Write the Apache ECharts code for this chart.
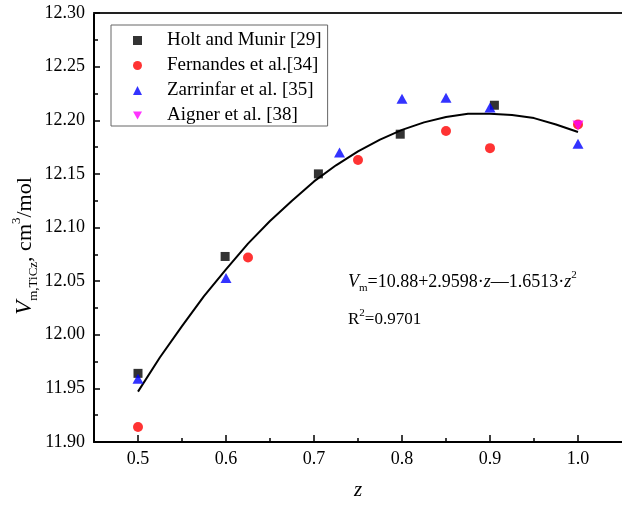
<!DOCTYPE html>
<html>
<head>
<meta charset="utf-8">
<script src="https://cdn.jsdelivr.net/npm/echarts@6/dist/echarts.min.js"></script>
<style>
  html, body { margin: 0; padding: 0; background: #fff; }
  #chart { width: 622px; height: 506px; }
</style>
</head>
<body>
<div id="chart"></div>
<script>
// data
const holtZ = [0.5, 0.599, 0.705, 0.798, 0.905]
const holtV = [11.964, 12.073, 12.150, 12.187, 12.214]
const fernZ = [0.5, 0.625, 0.75, 0.85, 0.9, 1.0]
const fernV = [11.914, 12.072, 12.163, 12.190, 12.174, 12.196]
const zarrZ = [0.5, 0.6, 0.729, 0.8, 0.85, 0.9, 1.0]
const zarrV = [11.959, 12.053, 12.170, 12.220, 12.221, 12.212, 12.178]
const aignZ = [1.0]
const aignV = [12.195]
// fitted curve, read at steps of 0.025
const fitZ = [0.5, 0.525, 0.55, 0.575, 0.6, 0.625, 0.65, 0.675, 0.7, 0.725, 0.75,
  0.775, 0.8, 0.825, 0.85, 0.875, 0.9, 0.925, 0.95, 0.975, 1.0]
const fitV = [11.947, 11.979, 12.008, 12.036, 12.061, 12.085, 12.106, 12.125, 12.143, 12.158, 12.171,
  12.182, 12.191, 12.198, 12.203, 12.206, 12.206, 12.205, 12.202, 12.196, 12.189]
const xMajor = [0.5, 0.6, 0.7, 0.8, 0.9, 1.0]
const xMinor = [0.55, 0.65, 0.75, 0.85, 0.95]
const names = ['Holt and Munir [29]', 'Fernandes et al.[34]', 'Zarrinfar et al. [35]', 'Aigner et al. [38]']

const font = "'Liberation Serif', 'Times New Roman', serif"
const pair = (xs, ys) => xs.map((x, i) => [x, ys[i]])

const chart = echarts.init(document.getElementById('chart'))

const option = {
  backgroundColor: '#fff',
  animation: false,
  textStyle: { fontFamily: font, color: '#000' },
  grid: { left: 94, top: 13, right: -2, bottom: 62, show: false },
  legend: {
    data: names,
    orient: 'vertical',
    left: 111,
    top: 25,
    padding: [6, 6, 1, 22],
    itemGap: 6,
    itemWidth: 9,
    itemHeight: 9,
    borderColor: '#666',
    borderWidth: 1,
    textStyle: { fontFamily: font, fontSize: 19, color: '#000', lineHeight: 18, padding: [0, 0, 0, 20] }
  },
  xAxis: [
    {
      type: 'value', position: 'bottom', min: 0.45, max: 1.05,
      name: 'z', nameLocation: 'middle', nameGap: 38,
      nameTextStyle: { fontFamily: font, fontStyle: 'italic', fontSize: 21, color: '#000' },
      axisLine: { lineStyle: { color: '#000', width: 2 } },
      axisTick: { inside: true, length: 7, customValues: xMajor, lineStyle: { color: '#000', width: 1.5 } },
      axisLabel: { customValues: xMajor, fontSize: 18, color: '#000', margin: 8, formatter: v => v.toFixed(1) },
      splitLine: { show: false }
    },
    {
      type: 'value', position: 'bottom', min: 0.45, max: 1.05,
      axisLine: { show: false },
      axisTick: { inside: true, length: 4, customValues: xMinor, lineStyle: { color: '#000', width: 1.5 } },
      axisLabel: { show: false },
      splitLine: { show: false }
    },
    {
      type: 'value', position: 'top', min: 0.45, max: 1.05,
      axisLine: { lineStyle: { color: '#222', width: 2 } },
      axisTick: { show: false },
      axisLabel: { show: false },
      splitLine: { show: false }
    }
  ],
  yAxis: {
    type: 'value', min: 11.9, max: 12.3, interval: 0.05,
    axisLine: { show: true, lineStyle: { color: '#000', width: 2 } },
    axisTick: { inside: true, length: 6, lineStyle: { color: '#000', width: 1.5 } },
    minorTick: { show: true, splitNumber: 2, length: 4, lineStyle: { color: '#000', width: 1.5 } },
    axisLabel: { fontSize: 18, color: '#000', margin: 9, formatter: v => v.toFixed(2) },
    splitLine: { show: false }
  },
  graphic: [
    {
      type: 'text', x: 25, y: 246, rotation: Math.PI / 2,
      style: {
        text: '{v|V}{s|m,TiCz}{t|, cm}{p|3}{t|/mol}',
        align: 'center', verticalAlign: 'middle',
        rich: {
          v: { fontFamily: font, fontStyle: 'italic', fontSize: 23, lineHeight: 30, verticalAlign: 'middle' },
          s: { fontFamily: font, fontSize: 13, lineHeight: 30, verticalAlign: 'bottom' },
          t: { fontFamily: font, fontSize: 22, lineHeight: 30, verticalAlign: 'middle' },
          p: { fontFamily: font, fontSize: 13, lineHeight: 30, verticalAlign: 'top' }
        }
      }
    },
    {
      type: 'text', x: 348, y: 282,
      style: {
        text: '{v|V}{s|m}{n|=10.88+2.9598·}{i|z}{n|—1.6513·}{i|z}{p|2}',
        align: 'left', verticalAlign: 'middle',
        rich: {
          v: { fontFamily: font, fontStyle: 'italic', fontSize: 18, lineHeight: 24, verticalAlign: 'middle' },
          s: { fontFamily: font, fontSize: 11, lineHeight: 24, verticalAlign: 'bottom' },
          n: { fontFamily: font, fontSize: 18, lineHeight: 24, verticalAlign: 'middle' },
          i: { fontFamily: font, fontStyle: 'italic', fontSize: 18, lineHeight: 24, verticalAlign: 'middle' },
          p: { fontFamily: font, fontSize: 11, lineHeight: 24, verticalAlign: 'top' }
        }
      }
    },
    {
      type: 'text', x: 348, y: 320,
      style: {
        text: '{n|R}{p|2}{n|=0.9701}',
        align: 'left', verticalAlign: 'middle',
        rich: {
          n: { fontFamily: font, fontSize: 17, lineHeight: 24, verticalAlign: 'middle' },
          p: { fontFamily: font, fontSize: 11, lineHeight: 24, verticalAlign: 'top' }
        }
      }
    }
  ],
  series: [
    {
      name: 'fit', type: 'line', data: pair(fitZ, fitV), smooth: false,
      showSymbol: false, lineStyle: { color: '#000', width: 2 }, z: 1
    },
    {
      name: names[0], type: 'scatter', data: pair(holtZ, holtV),
      symbol: 'rect', symbolSize: 9, itemStyle: { color: '#000' }
    },
    {
      name: names[1], type: 'scatter', data: pair(fernZ, fernV),
      symbol: 'circle', symbolSize: 10, itemStyle: { color: '#ff0000' }
    },
    {
      name: names[2], type: 'scatter', data: pair(zarrZ, zarrV),
      symbol: 'triangle', symbolSize: [11, 10], itemStyle: { color: '#0000ff' }
    },
    {
      name: names[3], type: 'scatter', data: pair(aignZ, aignV),
      symbol: 'path://M0,0 L10,0 L5,9 Z', symbolSize: [11, 10], itemStyle: { color: '#ff00ff' }
    }
  ]
}

chart.setOption(option)
</script>
</body>
</html>
